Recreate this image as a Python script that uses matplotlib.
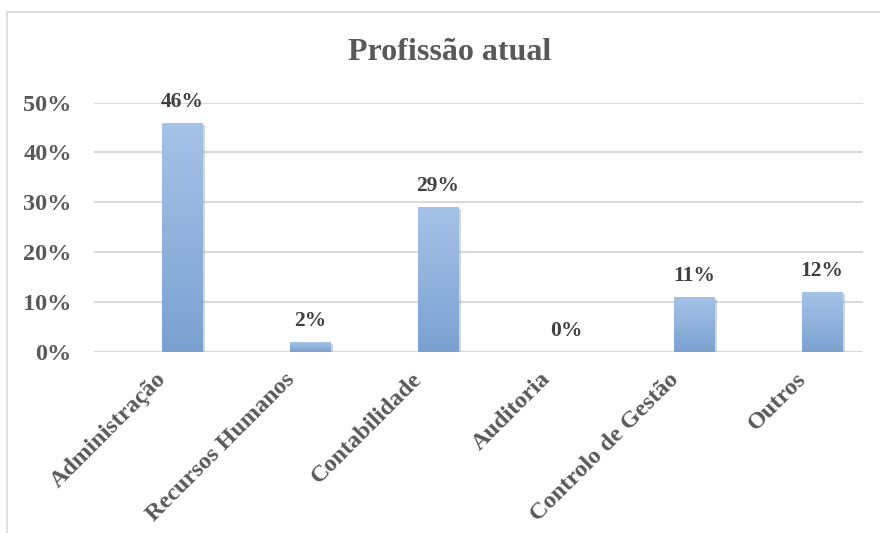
import matplotlib
matplotlib.use("Agg")
import matplotlib.pyplot as plt
import numpy as np
from matplotlib.colors import LinearSegmentedColormap
from matplotlib.patches import Rectangle
from matplotlib.transforms import ScaledTranslation
import matplotlib.patheffects as pe

categories = ["Administração", "Recursos Humanos", "Contabilidade", "Auditoria",
              "Controlo de Gestão", "Outros"]
values = [0.46, 0.02, 0.29, 0.00, 0.11, 0.12]
yticks = [0.0, 0.1, 0.2, 0.3, 0.4, 0.5]
title = "Profissão atual"

serif = ["Liberation Serif", "DejaVu Serif"]

fig = plt.figure(figsize=(8.8, 5.33), dpi=100)
W, H = 880, 533

# outer chart frame
fig.patches.append(Rectangle((7 / W, -0.1), 1.2, (H - 12) / H + 0.1, transform=fig.transFigure,
                             fill=False, edgecolor="#d9d9d9", linewidth=1.2))

ax = fig.add_axes([94 / W, (H - 351.7) / H, (863 - 94) / W, (351.7 - 102.7) / H])
x = np.arange(len(categories))

for y in yticks:
    ax.axhline(y, color="#d9d9d9", linewidth=1.5, zorder=0)

cmap = LinearSegmentedColormap.from_list("g", ["#7ba1d1", "#a5c3e8"])
grad = np.linspace(0, 1, 256).reshape(-1, 1)
bars = ax.bar(x, values, width=0.32, color="#8fb1de", linewidth=0, zorder=2,
              path_effects=[pe.SimplePatchShadow(offset=(1.5, -1.5), shadow_rgbFace="#888888", alpha=0.35),
                            pe.Normal()])
for b in bars:
    h = b.get_height()
    if h <= 0:
        continue
    im = ax.imshow(grad, cmap=cmap, origin="lower", aspect="auto",
                   extent=[b.get_x(), b.get_x() + b.get_width(), 0, h], zorder=3)
    im.set_clip_path(b)
ax.set_xlim((94 - 182) / 128, (863 - 182) / 128)
ax.set_ylim(0, 0.5)

for xi, v in zip(x, values):
    ax.annotate(f"{v * 100:.0f}%", (xi, v), xytext=(0, 8), textcoords="offset points",
                ha="center", va="bottom", fontsize=15.5, fontweight="bold",
                color="#404040", family=serif)

ax.set_yticks(yticks)
ax.set_yticklabels([f"{t * 100:.0f}%" for t in yticks], fontsize=17.5, fontweight="bold",
                   color="#595959", family=serif)
ax.set_xticks(x)
ax.set_xticklabels([])
shift = ScaledTranslation(-26 / 100, -17 / 100, fig.dpi_scale_trans)
for xi, cat in zip(x, categories):
    ax.text(xi, 0, cat, transform=ax.get_xaxis_transform() + shift, rotation=45,
            ha="right", va="top", rotation_mode="anchor", fontsize=17.5,
            fontweight="bold", color="#595959", family=serif)
ax.tick_params(axis="both", length=0)
ax.tick_params(axis="y", pad=16)
for s in ax.spines.values():
    s.set_visible(False)

fig.text(450 / W, (H - 52) / H, title, ha="center", va="center", fontsize=23,
         fontweight="bold", color="#595959", family=serif)

fig.savefig("out.png", dpi=100)
